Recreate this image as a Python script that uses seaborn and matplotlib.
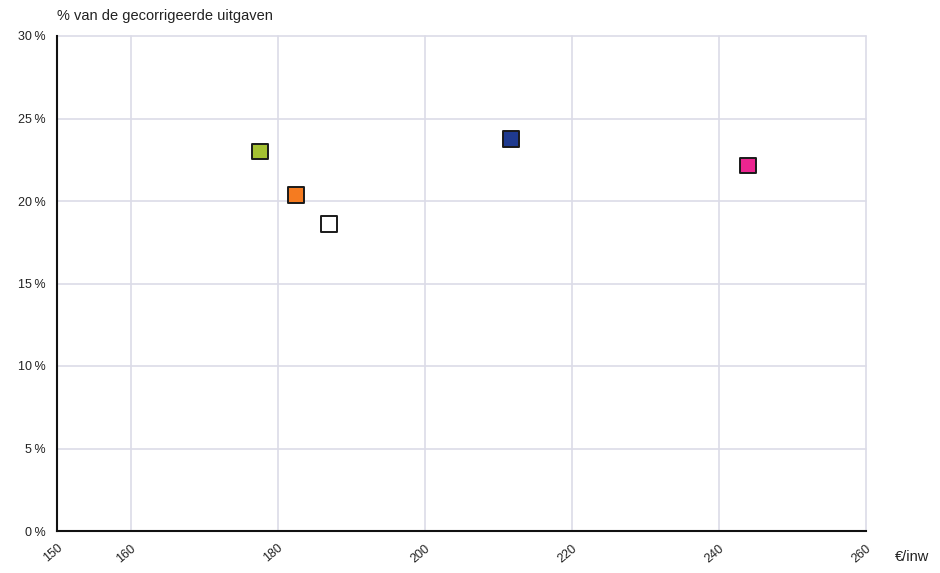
import matplotlib
matplotlib.use("Agg")
import matplotlib.pyplot as plt
import seaborn as sns
import pandas as pd

groups = ["groen", "oranje", "wit", "blauw", "roze"]
euro_per_inw = [177.6, 182.5, 187.0, 211.7, 244.0]
pct_uitgaven = [23.0, 20.35, 18.6, 23.75, 22.15]
colors = ["#a4c031", "#f57b20", "#ffffff", "#1f3a8f", "#ec2590"]

x_ticks = [150, 160, 180, 200, 220, 240, 260]
y_ticks = [0, 5, 10, 15, 20, 25, 30]

df = pd.DataFrame({"groep": groups, "x": euro_per_inw, "y": pct_uitgaven})

sns.set_style("white")
plt.rcParams['font.family'] = ['Liberation Sans', 'DejaVu Sans']

fig = plt.figure(figsize=(9.4, 5.73), dpi=100)
ax = fig.add_axes([57 / 940, 42 / 573, (866 - 57) / 940, (531 - 36) / 573])

sns.scatterplot(data=df, x="x", y="y", hue="groep", palette=colors, marker="s",
                s=130, edgecolor="#1a1a1a", linewidth=1.4, legend=False, ax=ax, zorder=3)

ax.set_xlim(150, 260)
ax.set_ylim(0, 30)
ax.set_xticks(x_ticks)
ax.set_yticks(y_ticks)
ax.set_xticklabels([str(t) for t in x_ticks], rotation=40, fontsize=9, color="#222222",
                   ha="right", rotation_mode="anchor")
ax.set_yticklabels([f"{t}\u2009%" for t in y_ticks], fontsize=9, color="#222222")
ax.tick_params(axis="both", length=5, width=1.2, color="#222222", direction="out")
ax.tick_params(axis="x", pad=3)
ax.tick_params(axis="y", pad=3)

# grid
for t in x_ticks[1:]:
    ax.axvline(t, color="#dcdce8", linewidth=1.2, zorder=0, clip_on=False)
for t in y_ticks[1:]:
    ax.axhline(t, color="#dcdce8", linewidth=1.2, zorder=0, clip_on=False)

for side in ["top", "right"]:
    ax.spines[side].set_visible(False)
for side in ["left", "bottom"]:
    ax.spines[side].set_color("#111111")
    ax.spines[side].set_linewidth(1.5)

ax.set_xlabel("")
ax.set_ylabel("")
fig.text(57 / 940, 1 - 20 / 573, "% van de gecorrigeerde uitgaven", fontsize=10.5, color="#222222", va="baseline")
fig.text(895 / 940, 1 - 561 / 573, "€/inw", fontsize=10.5, color="#222222", va="baseline")

fig.savefig("out.png", dpi=100)
